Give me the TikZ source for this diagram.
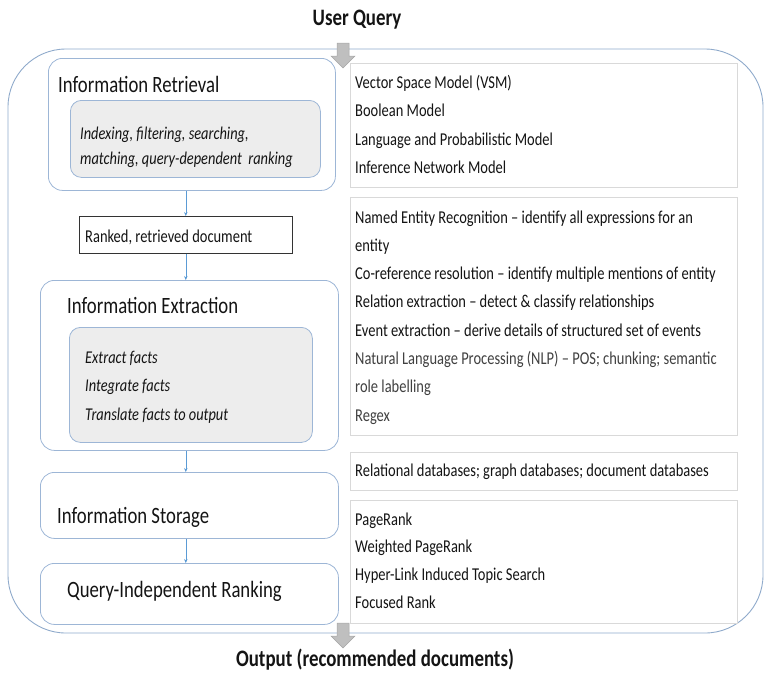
\documentclass[tikz,border=0pt]{standalone}
\usepackage{fontspec}
\setmainfont{Carlito}[FakeStretch=0.8]
\usetikzlibrary{arrows.meta}
\definecolor{outerc}{HTML}{8FAACB}
\definecolor{boxc}{HTML}{9DB6D6}
\definecolor{innerf}{HTML}{EDEDED}
\definecolor{rboxc}{HTML}{D9D9D9}
\definecolor{arrc}{HTML}{5B9BD5}
\definecolor{txt}{HTML}{141414}
\definecolor{nlp}{HTML}{404040}
\definecolor{garr}{HTML}{BFBFBF}
\definecolor{garrd}{HTML}{A6A6A6}
\begin{document}
\begin{tikzpicture}[x=1pt,y=-1pt,
  outer/.style={draw=outerc, line width=0.9pt, rounded corners=58pt},
  lbox/.style={draw=boxc, line width=0.8pt, rounded corners=14pt, anchor=north west, inner sep=0pt},
  inbox/.style={draw=boxc, fill=innerf, line width=0.8pt, rounded corners=11pt, anchor=north west, inner sep=0pt},
  rbox/.style={draw=rboxc, line width=0.8pt, fill=white, anchor=north west, inner sep=0pt},
  plainbox/.style={draw=black!80, line width=0.6pt, fill=white, anchor=north west, inner sep=0pt},
  ttl/.style={font=\fontsize{23.4}{27}\selectfont, text=txt, anchor=base west, inner sep=0pt},
  body/.style={font=\fontsize{18.1}{21}\selectfont, text=txt, anchor=base west, inner sep=0pt},
  itl/.style={font=\fontsize{18}{21}\selectfont\itshape, text=txt, anchor=base west, inner sep=0pt},
  head/.style={font=\fontsize{23.6}{27}\selectfont\bfseries, text=txt, inner sep=0pt},
  flow/.style={draw=arrc, line width=0.6pt, -{Stealth[length=4pt,width=3.5pt]}},
  garrow/.style={fill=garr, draw=garrd, line width=0.5pt}
]
\useasboundingbox (0,0) rectangle (767,673);
% outer frame
\draw[outer] (8,49) rectangle (763,633);

% headings
\node[head] (uq) at (357,20) {User Query};
\node[head] (out) at (375,660) {Output (recommended documents)};

% left column
\node[lbox, minimum width=287pt, minimum height=132pt] (ir) at (48,58) {};
\node[ttl] (irt) at (58,92) {Information Retrieval};
\node[inbox, minimum width=250pt, minimum height=77pt] (iri) at (70,100) {};
\node[itl] (iri1) at (80,139) {Indexing, filtering, searching,};
\node[itl] (iri2) at (80,164) {matching, query-dependent\ \ ranking};

\node[plainbox, minimum width=213pt, minimum height=37pt] (rk) at (79,216) {};
\node[body] (rkt) at (85,242) {Ranked, retrieved document};

\node[lbox, minimum width=298pt, minimum height=170pt] (ie) at (40,280) {};
\node[ttl] (iet) at (67,313) {Information Extraction};
\node[inbox, minimum width=243pt, minimum height=115pt] (iei) at (69,327) {};
\node[itl] (iei1) at (85,363) {Extract facts};
\node[itl] (iei2) at (85,391.5) {Integrate facts};
\node[itl] (iei3) at (85,420) {Translate facts to output};

\node[lbox, minimum width=298pt, minimum height=66pt] (st) at (40,472) {};
\node[ttl] (stt) at (57,523) {Information Storage};

\node[lbox, minimum width=298pt, minimum height=61pt] (qi) at (40,563) {};
\node[ttl] (qit) at (67,597) {Query-Independent Ranking};

% flow arrows
\draw[flow] (ir.south -| rk.north) -- (rk.north);
\draw[flow] (rk.south) -- (rk.south |- ie.north);
\draw[flow] (ie.south -| rk.south) -- (st.north -| rk.south);
\draw[flow] (st.south -| rk.south) -- (qi.north -| rk.south);

% right column
\node[rbox, minimum width=387pt, minimum height=124pt] (r1) at (350,63) {};
\foreach \t [count=\i from 0] in {Vector Space Model (VSM), Boolean Model, Language and Probabilistic Model, Inference Network Model}
  \node[body] (ra\i) at (355,88+28.5*\i) {\t};

\node[rbox, minimum width=387pt, minimum height=238pt] (r2) at (350,197) {};
\node[body] (rb0) at (355,223) {Named Entity Recognition -- identify all expressions for an};
\node[body] (rb1) at (355,251.3) {entity};
\node[body] (rb2) at (355,279.6) {Co-reference resolution -- identify multiple mentions of entity};
\node[body] (rb3) at (355,307.9) {Relation extraction -- detect \& classify relationships};
\node[body] (rb4) at (355,336.2) {Event extraction -- derive details of structured set of events};
\node[body, text=nlp] (rb5) at (355,364.5) {Natural Language Processing (NLP) -- POS; chunking; semantic};
\node[body, text=nlp] (rb6) at (355,392.8) {role labelling};
\node[body, text=nlp] (rb7) at (355,421.1) {Regex};

\node[rbox, minimum width=387pt, minimum height=38pt] (r3) at (350,452) {};
\node[body] (rc0) at (355,476) {Relational databases; graph databases; document databases};

\node[rbox, minimum width=387pt, minimum height=123pt] (r4) at (350,500) {};
\foreach \t [count=\i from 0] in {PageRank, Weighted PageRank, Hyper-Link Induced Topic Search, Focused Rank}
  \node[body] (rd\i) at (355,525+27.8*\i) {\t};

% gray block arrows
\coordinate (qa) at (343,43);
\draw[garrow] ([xshift=-6pt]qa) -- ++(0,13) -- ++(-6,0) -- (343,68) -- (355,56) -- (349,56) -- (349,43) -- cycle;
\coordinate (oa) at (343,623);
\draw[garrow] ([xshift=-6pt]oa) -- ++(0,13) -- ++(-6,0) -- (343,648) -- (355,636) -- (349,636) -- (349,623) -- cycle;
\end{tikzpicture}
\end{document}
